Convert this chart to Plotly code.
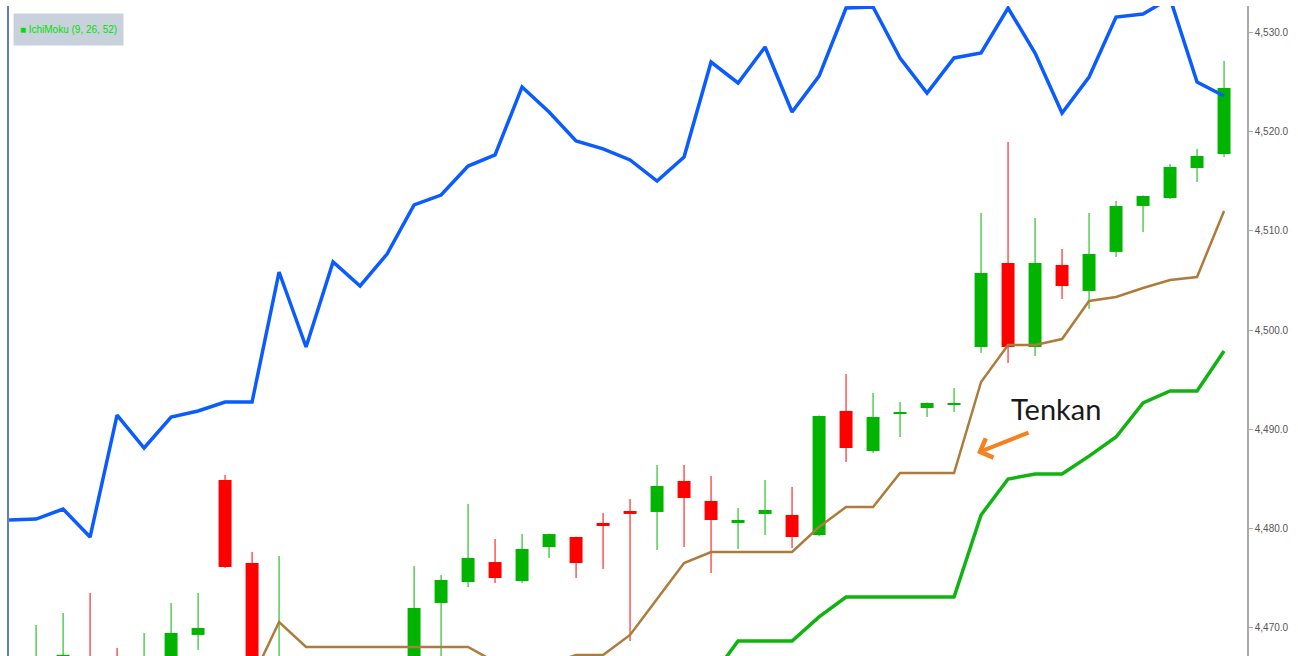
import plotly.graph_objects as go

idx = list(range(46))

opens = [None, 4465.5, 4465.8, 4466.9, 4466.8, 4465.6, 4466.4, 4469.30, 4484.90, 4476.54, 4465.4,
         None, None, None, None,
         4465.8, 4472.52, 4474.63, 4476.64, 4474.73, 4478.15, 4479.16, 4480.57, 4481.78, 4481.68,
         4484.80, 4482.79, 4480.57, 4481.48, 4481.38, 4479.36, 4491.85, 4487.82, 4491.55, 4492.15,
         4492.50, 4498.29, 4506.75, 4498.29, 4506.55, 4503.93, 4507.86, 4512.49, 4513.29, 4516.31, 4517.72]
closes = [None, 4466.8, 4467.3, 4465.0, 4465.9, 4466.9, 4469.50, 4470.00, 4476.14, 4466.2, 4466.9,
          None, None, None, None,
          4472.01, 4474.83, 4477.05, 4475.03, 4477.95, 4479.46, 4476.54, 4480.27, 4481.48, 4484.30,
          4483.09, 4480.87, 4480.87, 4481.88, 4479.16, 4491.34, 4488.12, 4491.24, 4491.75, 4492.65,
          4492.65, 4505.74, 4498.29, 4506.75, 4504.43, 4507.65, 4512.49, 4513.49, 4516.41, 4517.52, 4524.37]
highs = [None, 4470.30, 4471.51, 4473.52, 4467.99, 4469.50, 4472.52, 4473.52, 4485.40, 4477.65, 4477.25,
         None, None, None, None,
         4476.24, 4475.34, 4482.48, 4478.96, 4479.46, 4479.50, 4479.20, 4481.58, 4482.99, 4486.41,
         4486.41, 4485.30, 4482.08, 4484.90, 4484.20, 4491.40, 4495.57, 4493.66, 4492.75, 4492.70,
         4494.16, 4511.78, 4518.93, 4511.28, 4508.16, 4511.78, 4512.99, 4513.55, 4516.72, 4518.23, 4527.09]
lows = [None, 4464.5, 4465.0, 4464.5, 4465.2, 4465.0, 4465.8, 4467.79, 4476.04, 4465.6, 4464.8,
        None, None, None, None,
        4465.0, 4466.0, 4474.13, 4474.53, 4474.53, 4477.05, 4475.03, 4475.94, 4468.69, 4477.85,
        4478.15, 4475.54, 4477.95, 4479.36, 4478.05, 4479.26, 4486.71, 4487.62, 4489.23, 4491.24,
        4491.75, 4497.69, 4496.68, 4497.38, 4503.12, 4502.12, 4507.35, 4509.87, 4513.19, 4514.90, 4517.42]

lagging = [4480.87, 4480.97, 4481.98, 4479.16, 4491.44, 4488.12, 4491.24, 4491.85, 4492.75, 4492.75,
           4505.84, 4498.29, 4506.85, 4504.43, 4507.65, 4512.59, 4513.59, 4516.51, 4517.62, 4524.47,
           4521.95, 4519.03, 4518.23, 4517.12, 4515.00, 4517.42, 4526.98, 4524.87, 4528.49, 4521.95,
           4525.57, 4532.42, 4532.52, 4527.39, 4523.86, 4527.39, 4527.89, 4532.42, 4527.89, 4521.85,
           4525.47, 4531.51, 4531.82, 4533.40, 4524.97, 4523.56]

tenkan = [None] * 9 + [4464.87, 4470.60,
          4468.09, 4468.09, 4468.09, 4468.09, 4468.09, 4468.09, 4468.09,
          4466.58, 4466.38, 4466.38, 4467.28, 4467.28, 4469.30, 4472.92, 4476.54,
          4477.65, 4477.65, 4477.65, 4477.65, 4480.17, 4482.18, 4482.18,
          4485.60, 4485.60, 4485.60, 4494.77, 4498.49, 4498.49, 4499.09, 4502.92,
          4503.32, 4504.23, 4505.03, 4505.34, 4511.98]

kijun = [None] * 26 + [4464.97, 4468.69, 4468.69, 4468.69, 4471.11,
         4473.12, 4473.12, 4473.12, 4473.12, 4473.12,
         4481.38, 4485.00, 4485.50, 4485.50, 4487.30, 4489.23, 4492.65, 4493.86, 4493.86, 4497.89]

y_ticks = [4470, 4480, 4490, 4500, 4510, 4520, 4530]

GREEN = "#00b400"
RED = "#ff0000"

fig = go.Figure()

for up, col in ((True, GREEN), (False, RED)):
    xs, base, hgt, wx, wy = [], [], [], [], []
    for i, o, h, l, c in zip(idx, opens, highs, lows, closes):
        if o is None:
            continue
        if (c >= o) != up:
            continue
        xs.append(i)
        base.append(min(o, c))
        hgt.append(abs(c - o))
        wx += [i, i, None]
        wy += [l, h, None]
    fig.add_trace(go.Bar(x=xs, y=hgt, base=base, width=0.48, marker=dict(color=col, line=dict(width=0)),
                         hoverinfo="skip", showlegend=False))
    fig.add_trace(go.Scatter(x=wx, y=wy, mode="lines", line=dict(color=col, width=1),
                             hoverinfo="skip", showlegend=False))

fig.add_trace(go.Scatter(x=idx, y=kijun, mode="lines", line=dict(color="#10b410", width=3.5),
                         showlegend=False, name="Kijun"))
fig.add_trace(go.Scatter(x=idx, y=tenkan, mode="lines", line=dict(color="#ad7c3c", width=2.5),
                         showlegend=False, name="Tenkan"))
fig.add_trace(go.Scatter(x=idx, y=lagging, mode="lines", line=dict(color="#0a5cff", width=3.5),
                         showlegend=False, name="Chikou"))

fig.update_layout(
    width=1298, height=656,
    margin=dict(l=8, r=51, t=6, b=0),
    paper_bgcolor="white", plot_bgcolor="white",
    barmode="overlay",
    showlegend=False,
    xaxis=dict(visible=False, range=[-0.04, 45.85]),
    yaxis=dict(side="right", range=[4467.18, 4532.62], tickvals=y_ticks, tickformat=",.1f",
               showgrid=False, zeroline=False, showline=True, linecolor="#aaaaaa", linewidth=1.5,
               ticks="outside", ticklen=4, tickcolor="#aaaaaa",
               tickfont=dict(family="Liberation Sans, Arial", size=10, color="#555555")),
    shapes=[dict(type="line", xref="paper", yref="paper", x0=0, x1=0, y0=0, y1=1,
                 line=dict(color="#5b7fb8", width=2))],
    annotations=[
        dict(xref="paper", yref="paper", x=0.004, y=0.99, xanchor="left", yanchor="top",
             text="■ IchiMoku (9, 26, 52)", showarrow=False, bgcolor="#c9d1dd", borderpad=4,
             width=101, height=23,
             font=dict(family="Liberation Sans, Arial", size=10, color="#00e000")),
        dict(x=35.85, y=4487.62, xref="x", yref="y", ax=53, ay=-21, showarrow=True,
             arrowhead=4, arrowsize=1, arrowwidth=4, arrowcolor="#f58220", text=""),
        dict(x=37.02, y=4492.1, xref="x", yref="y", text="Tenkan", showarrow=False,
             xanchor="left", yanchor="middle",
             font=dict(family="Lato, Open Sans", size=29, color="#1a1a1a")),
    ],
)

fig.write_html("out.html", config={"displayModeBar": False},
               post_script="document.body.style.margin='0px';document.body.style.overflow='hidden';")
